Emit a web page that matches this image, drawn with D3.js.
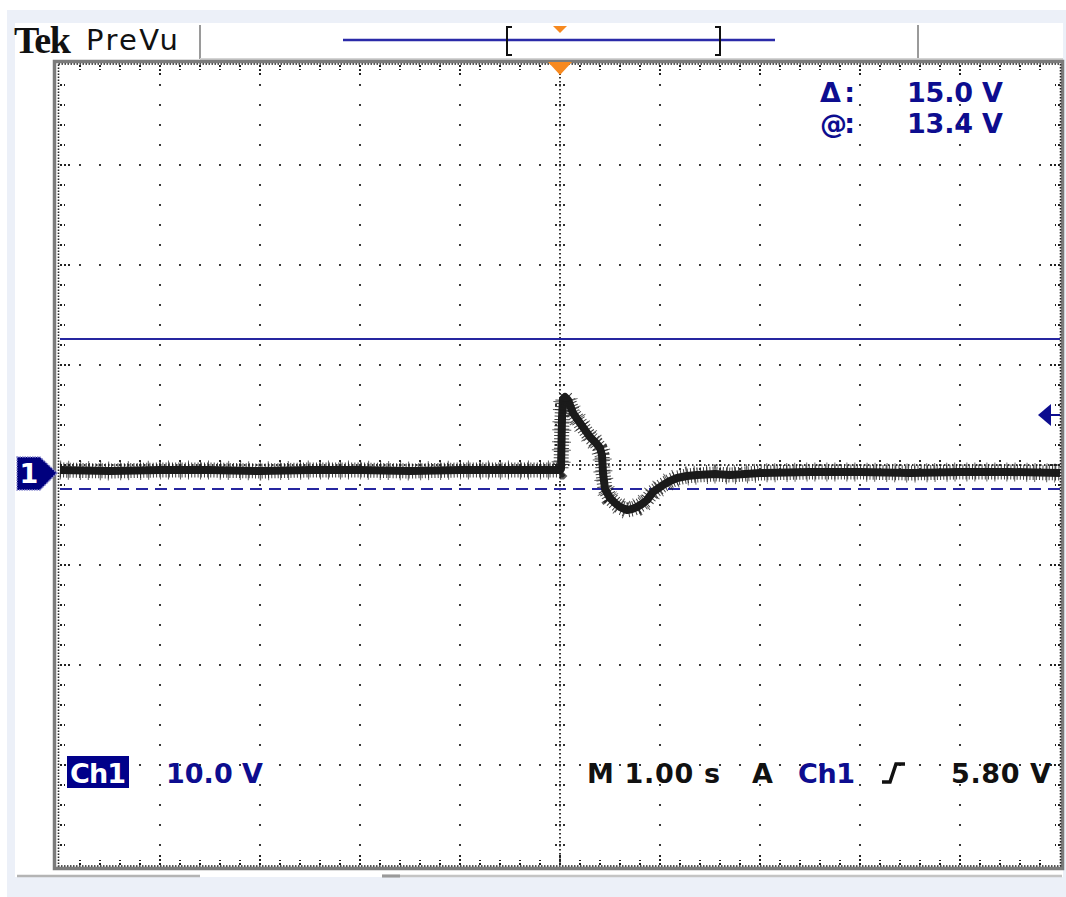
<!DOCTYPE html>
<html>
<head>
<meta charset="utf-8">
<script src="https://cdn.jsdelivr.net/npm/d3@7"></script>
<style>
  html, body { margin: 0; padding: 0; background: #ffffff; }
  svg { display: block; }
  text { font-family: "DejaVu Sans", Verdana, sans-serif; }
</style>
</head>
<body>
<svg id="scope" width="1066" height="897"></svg>
<script>
// ---- acquisition settings ----
const voltsPerDiv = 10.0;         // Ch1 scale
const secPerDiv = 1.00;           // horizontal scale
const ch1PositionDiv = -0.08;     // ground marker offset from centre, divisions
const triggerLevel = 5.80;        // V
const cursorA = 13.4;             // V (the "@" cursor)
const cursorDelta = 15.0;         // V
const horizDivs = 10, vertDivs = 8;

// ---- Ch1 record (time in s relative to trigger, volts) ----
const traceTime = [-5.0, -4.5, -4.0, -3.5, -3.0, -2.5, -2.0, -1.5, -1.0, -0.5, 0.0, 0.01,
  0.02, 0.03, 0.05, 0.08, 0.13, 0.20, 0.25, 0.30, 0.36, 0.40, 0.42, 0.43, 0.45, 0.50,
  0.55, 0.60, 0.67, 0.72, 0.77, 0.82, 0.87, 0.93, 1.03, 1.10, 1.17, 1.27, 1.37, 1.55,
  1.70, 2.0, 2.5, 3.0, 3.5, 4.0, 4.5, 5.0];
const traceVolts = [0.3, 0.2, 0.3, 0.3, 0.2, 0.3, 0.3, 0.2, 0.3, 0.3, 0.3, 0.4,
  5.5, 7.4, 7.6, 7.3, 6.0, 5.0, 4.3, 3.6, 3.0, 2.5, 1.8, 0.0, -1.6, -2.5,
  -3.0, -3.4, -3.7, -3.6, -3.4, -3.1, -2.7, -1.9, -1.2, -0.8, -0.5, -0.3, -0.2, -0.1,
  -0.2, 0.0, 0.1, 0.1, 0.0, 0.1, 0.1, 0.0];

// ---- screen readouts ----
const cursorLabels = ["\u0394:", "@:"];
const cursorValues = ["15.0 V", "13.4 V"];
const statusLeft = ["Ch1", "10.0 V"];
const statusRight = ["M 1.00 s", "A", "Ch1", "5.80 V"];

const NAVY = "#0d0d8f", ORANGE = "#f7891f", INK = "#1b1b1b";

const svg = d3.select("#scope");

// ---- scales ----
const plot = { left: 60, right: 1060, top: 65, bottom: 865 };
const gx = d3.scaleLinear().domain([-horizDivs / 2, horizDivs / 2]).range([plot.left, plot.right]);
const gy = d3.scaleLinear().domain([-vertDivs / 2, vertDivs / 2]).range([plot.bottom, plot.top]);
const xT = d3.scaleLinear()
  .domain([-horizDivs / 2 * secPerDiv, horizDivs / 2 * secPerDiv])
  .range([plot.left, plot.right]);
const yV = d3.scaleLinear()
  .domain([(-vertDivs / 2 - ch1PositionDiv) * voltsPerDiv, (vertDivs / 2 - ch1PositionDiv) * voltsPerDiv])
  .range([plot.bottom, plot.top]);

// ---- window background ----
svg.append("rect").attr("x", 7).attr("y", 10).attr("width", 1059).attr("height", 887).attr("fill", "#ecf0f8");
svg.append("rect").attr("x", 15).attr("y", 23).attr("width", 1048).attr("height", 854).attr("fill", "#ffffff");

// ---- header ----
const header = svg.append("g");
header.append("text").attr("x", 14).attr("y", 53)
  .style("font-family", "'Liberation Serif', 'Times New Roman', serif")
  .style("font-weight", "bold").style("font-size", "38px").style("letter-spacing", "-1.5px")
  .attr("fill", "#111").text("Tek");
header.append("text").attr("x", 86).attr("y", 50)
  .attr("textLength", 92).attr("lengthAdjust", "spacing")
  .style("font-size", "29px").style("font-weight", "500").attr("fill", "#111").text("PreVu");
header.selectAll("line.sep").data([200, 918]).join("line")
  .attr("x1", d => d).attr("x2", d => d).attr("y1", 25).attr("y2", 59)
  .attr("stroke", "#9a9a9a").attr("stroke-width", 2);
header.append("line").attr("x1", 200).attr("x2", 1063).attr("y1", 59).attr("y2", 59)
  .attr("stroke", "#d4d4d4").attr("stroke-width", 2);

// record view bar
header.append("line").attr("x1", 343).attr("x2", 775).attr("y1", 40).attr("y2", 40)
  .attr("stroke", "#2a2aa8").attr("stroke-width", 2.5);
const bracket = (x, dir) => `M${x + 5 * dir},27 H${x} V55 H${x + 5 * dir}`;
header.append("path").attr("d", bracket(507, 1)).attr("fill", "none").attr("stroke", "#111").attr("stroke-width", 2);
header.append("path").attr("d", bracket(720, -1)).attr("fill", "none").attr("stroke", "#111").attr("stroke-width", 2);
header.append("path").attr("d", `M${xT(0) - 7},26 L${xT(0) + 7},26 L${xT(0)},33 Z`).attr("fill", ORANGE);

// ---- graticule ----
const grat = svg.append("g");
const minor = d3.range(-horizDivs / 2, horizDivs / 2 + 0.001, 0.2).map(d => +d.toFixed(2));
const minorY = d3.range(-vertDivs / 2, vertDivs / 2 + 0.001, 0.2).map(d => +d.toFixed(2));
const majorX = d3.range(-horizDivs / 2 + 1, horizDivs / 2).filter(d => d !== 0);
const majorY = d3.range(-vertDivs / 2 + 1, vertDivs / 2).filter(d => d !== 0);

// dotted grid lines: one dot per minor division
const dots = [];
majorX.forEach(mx => minorY.forEach(my => { if (Math.abs(my) < vertDivs / 2) dots.push([gx(mx), gy(my)]); }));
majorY.forEach(my => minor.forEach(mx => { if (Math.abs(mx) < horizDivs / 2) dots.push([gx(mx), gy(my)]); }));
grat.selectAll("rect.dot").data(dots).join("rect")
  .attr("x", d => d[0] - 1).attr("y", d => d[1] - 1).attr("width", 2).attr("height", 2).attr("fill", "#3a3a3a");

// centre cross: dense dotted lines with minor ticks
grat.append("line").attr("x1", gx(0)).attr("x2", gx(0)).attr("y1", plot.top).attr("y2", plot.bottom)
  .attr("stroke", "#333").attr("stroke-width", 2).attr("stroke-dasharray", "1.5,2.5");
grat.append("line").attr("x1", plot.left).attr("x2", plot.right).attr("y1", gy(0)).attr("y2", gy(0))
  .attr("stroke", "#333").attr("stroke-width", 2).attr("stroke-dasharray", "1.5,2.5");
grat.selectAll("line.ctx").data(minorY.filter(d => Math.abs(d) < vertDivs / 2)).join("line")
  .attr("x1", gx(0) - 5).attr("x2", gx(0) + 5).attr("y1", d => gy(d)).attr("y2", d => gy(d))
  .attr("stroke", "#333").attr("stroke-width", 2).attr("stroke-dasharray", "2,2");
grat.selectAll("line.cty").data(minor.filter(d => Math.abs(d) < horizDivs / 2)).join("line")
  .attr("y1", gy(0) - 5).attr("y2", gy(0) + 5).attr("x1", d => gx(d)).attr("x2", d => gx(d))
  .attr("stroke", "#333").attr("stroke-width", 2).attr("stroke-dasharray", "2,2");

// edge ticks: short at minor, longer at major divisions
const isMajor = d => Math.abs(d - Math.round(d)) < 1e-6;
const edgeTicks = [];
minor.forEach(d => {
  if (Math.abs(d) >= horizDivs / 2) return;
  const L = isMajor(d) ? 11 : 5;
  edgeTicks.push([gx(d), plot.top, gx(d), plot.top + L]);
  edgeTicks.push([gx(d), plot.bottom, gx(d), plot.bottom - L]);
});
minorY.forEach(d => {
  if (Math.abs(d) >= vertDivs / 2) return;
  const L = isMajor(d) ? 11 : 5;
  edgeTicks.push([plot.left, gy(d), plot.left + L, gy(d)]);
  edgeTicks.push([plot.right, gy(d), plot.right - L, gy(d)]);
});
grat.selectAll("line.edge").data(edgeTicks).join("line")
  .attr("x1", d => d[0]).attr("y1", d => d[1]).attr("x2", d => d[2]).attr("y2", d => d[3])
  .attr("stroke", "#222").attr("stroke-width", 2).attr("stroke-dasharray", "2,2");

// frame: grey bevel plus dotted inner edge
grat.append("rect").attr("x", 54.5).attr("y", 61.5).attr("width", 1008).attr("height", 807)
  .attr("fill", "none").attr("stroke", "#7b7b7b").attr("stroke-width", 3.5);
grat.append("rect").attr("x", 58.5).attr("y", 64).attr("width", 1002).attr("height", 802)
  .attr("fill", "none").attr("stroke", "#222").attr("stroke-width", 1.6).attr("stroke-dasharray", "1.5,1.5");

// trigger position marker on the graticule
svg.append("path").attr("d", `M${xT(0) - 12},62 L${xT(0) + 12},62 L${xT(0)},75 Z`).attr("fill", ORANGE);

// ---- cursors ----
svg.append("line").attr("x1", plot.left).attr("x2", plot.right)
  .attr("y1", yV(cursorA)).attr("y2", yV(cursorA))
  .attr("stroke", "#2626a0").attr("stroke-width", 2);
svg.append("line").attr("x1", plot.left).attr("x2", plot.right)
  .attr("y1", yV(cursorA - cursorDelta)).attr("y2", yV(cursorA - cursorDelta))
  .attr("stroke", "#2626a0").attr("stroke-width", 2).attr("stroke-dasharray", "12,7");

// ---- Ch1 trace ----
const pts = traceTime.map((t, i) => [xT(t), yV(traceVolts[i])]);
const line = d3.line().curve(d3.curveLinear);
svg.append("path").attr("d", line(pts)).attr("fill", "none")
  .attr("stroke", INK).attr("stroke-width", 8).attr("stroke-linejoin", "round");
svg.append("path").attr("d", line(pts)).attr("fill", "none")
  .attr("stroke", INK).attr("stroke-width", 15).attr("stroke-dasharray", "1,2.2").attr("opacity", 0.85);
svg.append("path").attr("d", line(pts)).attr("fill", "none")
  .attr("stroke", INK).attr("stroke-width", 19).attr("stroke-dasharray", "1,7,1,11").attr("opacity", 0.7);

// ---- channel ground marker ----
const g0 = yV(0);
svg.append("path")
  .attr("d", `M17,${g0 - 16} H40 L57,${g0} L40,${g0 + 17} H17 Z`)
  .attr("fill", "#00007e").attr("stroke", "#8a8ad0").attr("stroke-width", 1.5).attr("stroke-dasharray", "1.5,1");
svg.append("text").attr("x", 29).attr("y", g0 + 10).attr("text-anchor", "middle")
  .style("font-size", "27px").style("font-weight", "bold").attr("fill", "#fff").text("1");

// ---- trigger level marker ----
const tl = yV(triggerLevel);
svg.append("path").attr("d", `M1038,${tl} L1051,${tl - 11} L1051,${tl + 11} Z`).attr("fill", NAVY);
svg.append("line").attr("x1", 1050).attr("x2", 1060).attr("y1", tl).attr("y2", tl)
  .attr("stroke", NAVY).attr("stroke-width", 2);

// ---- cursor readouts ----
const ro = svg.append("g").style("font-size", "27px").style("font-weight", "bold").attr("fill", NAVY);
ro.selectAll("text.lab").data(cursorLabels).join("text")
  .attr("x", 820).attr("y", (d, i) => 102 + i * 31)
  .attr("textLength", 35).attr("lengthAdjust", "spacing").text(d => d);
ro.selectAll("text.val").data(cursorValues).join("text")
  .attr("x", 907).attr("y", (d, i) => 102 + i * 31)
  .attr("textLength", 96).attr("lengthAdjust", "spacing").text(d => d);

// ---- status line ----
const st = svg.append("g").style("font-size", "27px").style("font-weight", "bold");
const stText = (x, w, fill, s) => st.append("text").attr("x", x).attr("y", 783).attr("fill", fill)
  .attr("textLength", w).attr("lengthAdjust", "spacing").text(s);
st.append("rect").attr("x", 67).attr("y", 756).attr("width", 62).attr("height", 32).attr("fill", "#00008a");
stText(70, 56, "#fff", statusLeft[0]);
stText(166, 97, NAVY, statusLeft[1]);
stText(587, 133, "#111", statusRight[0]);
stText(752, 19, "#111", statusRight[1]);
stText(798, 57, NAVY, statusRight[2]);
st.append("path").attr("d", "M882,782 H890 L896,764 H905").attr("fill", "none")
  .attr("stroke", "#111").attr("stroke-width", 3.5);
stText(951, 100, "#111", statusRight[3]);

// ---- bottom scroll strip ----
svg.append("line").attr("x1", 17).attr("x2", 200).attr("y1", 876).attr("y2", 876).attr("stroke", "#b4b4b4").attr("stroke-width", 2.5);
svg.append("line").attr("x1", 382).attr("x2", 1062).attr("y1", 876).attr("y2", 876).attr("stroke", "#c4c4c4").attr("stroke-width", 2.5);
svg.append("line").attr("x1", 382).attr("x2", 400).attr("y1", 876).attr("y2", 876).attr("stroke", "#9a9a9a").attr("stroke-width", 3);
</script>
</body>
</html>
